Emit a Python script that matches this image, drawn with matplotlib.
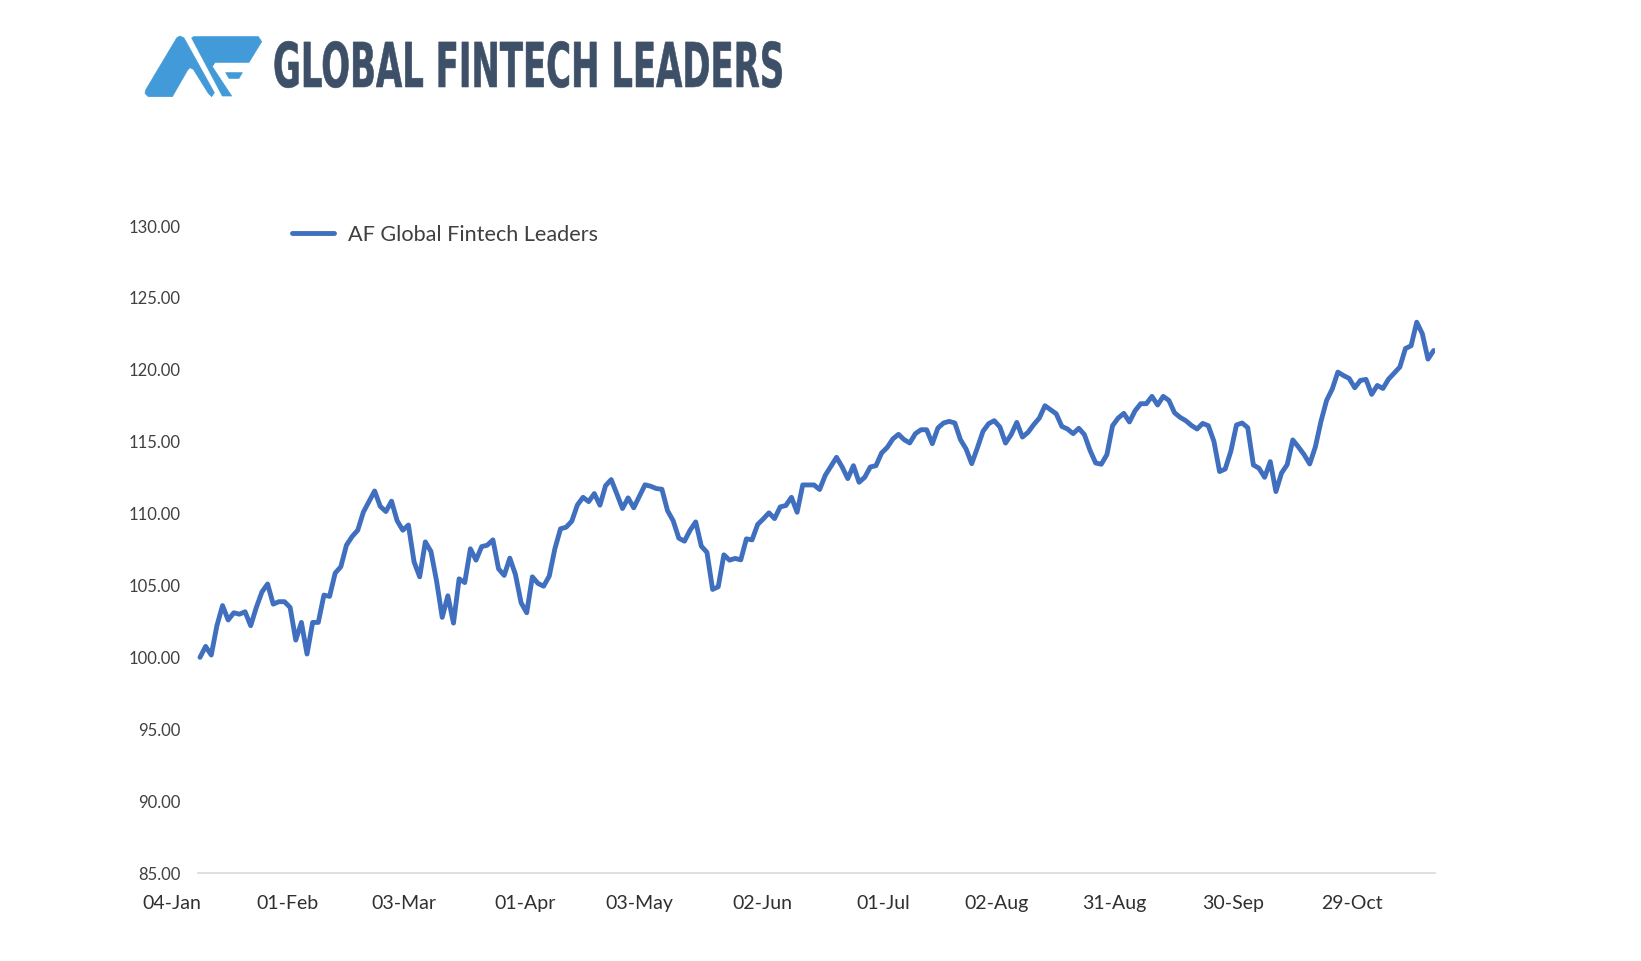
import matplotlib
matplotlib.use("Agg")
import matplotlib.pyplot as plt
from matplotlib.patches import Polygon
from matplotlib.patheffects import AbstractPathEffect
from matplotlib.transforms import Affine2D

# ---- data ----
index_values = [
100.0,100.76,100.16,102.2,103.6,102.6,103.1,103.0,103.17,102.2,103.47,104.55,105.1,103.7,103.87,103.87,
103.47,101.2,102.43,100.23,102.43,102.43,104.33,104.24,105.86,106.3,107.8,108.4,108.84,110.1,110.83,111.57,
110.5,110.14,110.86,109.5,108.84,109.2,106.64,105.6,108.03,107.36,105.3,102.78,104.28,102.38,105.46,105.2,
107.55,106.76,107.7,107.8,108.17,106.16,105.7,106.9,105.76,103.8,103.1,105.6,105.14,104.95,105.65,107.55,
108.94,109.05,109.47,110.6,111.13,110.83,111.39,110.58,111.94,112.36,111.37,110.35,111.09,110.4,111.2,112.0,
111.9,111.74,111.69,110.2,109.5,108.29,108.08,108.84,109.42,107.73,107.3,104.72,104.91,107.13,106.76,106.88,
106.78,108.24,108.17,109.24,109.63,110.05,109.65,110.46,110.56,111.13,110.09,111.99,111.99,111.99,111.67,112.66,
113.29,113.91,113.24,112.43,113.33,112.18,112.52,113.24,113.33,114.21,114.6,115.19,115.51,115.14,114.91,115.56,
115.83,115.83,114.86,115.95,116.3,116.41,116.3,115.14,114.49,113.47,114.56,115.72,116.25,116.46,116.02,114.9,
115.49,116.34,115.32,115.65,116.18,116.64,117.5,117.22,116.94,116.06,115.88,115.56,115.93,115.49,114.4,113.52,
113.43,114.1,116.11,116.64,116.97,116.37,117.15,117.64,117.64,118.15,117.55,118.15,117.87,117.01,116.69,116.46,
116.13,115.88,116.27,116.11,115.02,112.92,113.1,114.33,116.16,116.3,115.97,113.38,113.15,112.52,113.61,111.53,
112.82,113.4,115.12,114.63,114.1,113.45,114.63,116.41,117.87,118.66,119.84,119.6,119.4,118.75,119.26,119.33,
118.29,118.91,118.7,119.35,119.77,120.19,121.48,121.67,123.31,122.5,120.74,121.34]
x_tick_labels = ["04-Jan","01-Feb","03-Mar","01-Apr","03-May","02-Jun","01-Jul","02-Aug","31-Aug","30-Sep","29-Oct"]
x_tick_index = [-5,15.6,36.2,57.65,78,99.8,121.25,141.35,162.25,183.4,204.45]
y_ticks = [85,90,95,100,105,110,115,120,125,130]
series_name = "AF Global Fintech Leaders"
logo_text = "GLOBAL FINTECH LEADERS"

# ---- layout ----
W, H = 1641, 961
fig = plt.figure(figsize=(W/100, H/100), dpi=100, facecolor="white")
plt.rcParams["font.family"] = ["Lato", "DejaVu Sans"]

LINE = "#3f6fbe"
AX_L, AX_R, AX_T, AX_B = 150, 1435, 226, 873
STEP = 5.633
X0 = 200
ax = fig.add_axes([AX_L/W, 1-AX_B/H, (AX_R-AX_L)/W, (AX_B-AX_T)/H])
ax.set_xlim((AX_L-X0)/STEP, (AX_R-X0)/STEP)
ax.set_ylim(85, 130)
ax.plot(range(len(index_values)), index_values, color=LINE, lw=3.5,
        solid_joinstyle="round", solid_capstyle="round", label=series_name)

for s in ("top", "left", "right"):
    ax.spines[s].set_visible(False)
ax.spines["bottom"].set_color("#d9d9d9")
ax.spines["bottom"].set_linewidth(1.2)
ax.spines["bottom"].set_bounds((197.5-X0)/STEP, (AX_R-X0)/STEP)

ax.set_yticks(y_ticks)
ax.set_yticklabels([f"{v:.2f}" for v in y_ticks], fontsize=12, color="#404040")
ax.tick_params(axis="y", length=0, pad=-22)
ax.set_xticks(x_tick_index)
ax.set_xticklabels(x_tick_labels, fontsize=14, color="#303030")
ax.tick_params(axis="x", length=0, pad=15.5)

leg = ax.legend(loc="upper left", bbox_to_anchor=((292-AX_L)/(AX_R-AX_L), 1+0.002), frameon=False,
                fontsize=15.6, handlelength=1.95, handletextpad=0.62, borderpad=0, borderaxespad=0,
                labelcolor="#404040")

# ---- logo ----
over = fig.add_axes([0, 0, 1, 1], facecolor="none")
over.set_xlim(0, W); over.set_ylim(H, 0); over.axis("off")
BLUE = "#429bd8"
def logo_poly(pts):
    over.add_patch(Polygon([(135+x/3, 30+y/3) for x, y in pts], closed=True, fc=BLUE, ec=BLUE, lw=0.5, joinstyle="round"))
logo_poly([(30,190),(32,180),(125,24),(135,18),(147,24),(238,188),(230,200),(220,190),(175,118),(165,113),(158,120),(112,200),(40,200)])
logo_poly([(170,24),(176,20),(370,20),(380,35),(342,97),(240,97),(232,110),(290,198),(262,198)])
logo_poly([(272,128),(322,128),(312,145),(282,145)])

class Squeeze(AbstractPathEffect):
    """Narrows the wordmark horizontally about its left edge and thickens its strokes."""
    def __init__(self, x0, sx, stroke):
        super().__init__()
        self.x0, self.sx, self.stroke = x0, sx, stroke
    def draw_path(self, renderer, gc, tpath, affine, rgbFace=None):
        tr = affine + Affine2D().translate(-self.x0, 0).scale(self.sx, 1).translate(self.x0, 0)
        gc0 = renderer.new_gc()
        gc0.copy_properties(gc)
        gc0.set_foreground(rgbFace)
        gc0.set_linewidth(self.stroke)
        renderer.draw_path(gc0, tpath, tr, rgbFace)
        gc0.restore()

t = over.text(273, 87, logo_text, fontsize=44.5, fontweight="bold", color="#3d5068",
              family="DejaVu Sans", ha="left", va="baseline")
t.set_path_effects([Squeeze(273, 0.549, 0.4)])

fig.savefig("out.png", dpi=100, facecolor="white")
